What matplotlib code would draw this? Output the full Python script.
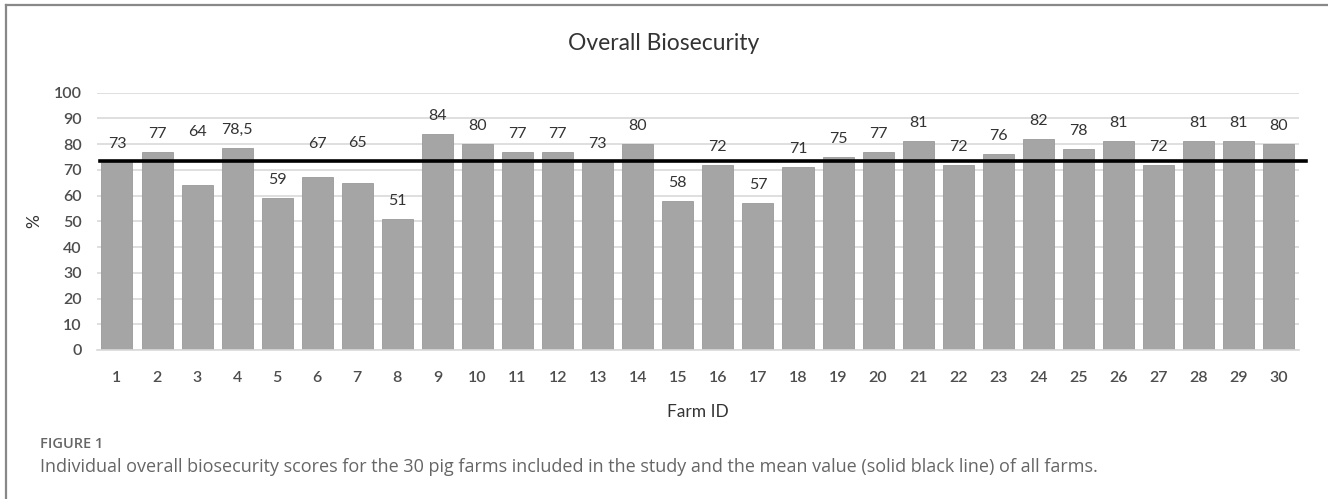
import matplotlib.pyplot as plt
import numpy as np

# Overall biosecurity score per farm (%)
farm_ids = [str(i) for i in range(1, 31)]
scores = [73, 77, 64, 78.5, 59, 67, 65, 51, 84, 80,
          77, 77, 73, 80, 58, 72, 57, 71, 75, 77,
          81, 72, 76, 82, 78, 81, 72, 81, 81, 80]
score_text = ['78,5' if s == 78.5 else f'{s:g}' for s in scores]

mean_score = np.mean(scores)

# label heights: mostly just above the bar, a few pushed up
label_y = [s + 7 for s in scores]
label_y[2] = 84.7
label_y[5] = 80.0
label_y[6] = 80.3

bar_color = '#a5a5a5'
text_gray = '#4d4d4d'

fig = plt.figure(figsize=(13.28, 4.99), dpi=100)
ax = fig.add_axes([0.073, 0.2986, 0.905, 0.516])

x = np.arange(1, len(scores) + 1)
ax.bar(x, scores, width=0.775, color=bar_color, edgecolor='#9a9a9a', linewidth=0.6, zorder=2)

for xi, yi, t in zip(x, label_y, score_text):
    ax.text(xi, yi, t, ha='center', va='center', fontsize=11.5, color='#333333',
            family='Lato', zorder=4)

# mean of all farms
ax.axhline(mean_score, xmin=0.0025, xmax=1.006, color='black', linewidth=2.6,
           clip_on=False, zorder=3)

ax.set_xlim(0.5, 30.5)
ax.set_ylim(0, 100)
ax.set_yticks(range(0, 101, 10))
ax.set_xticks(x)
ax.set_xticklabels(farm_ids)
ax.yaxis.grid(True, color='#d9d9d9', linewidth=1.2, zorder=0)
ax.set_axisbelow(True)
for side in ['top', 'right', 'left']:
    ax.spines[side].set_visible(False)
ax.spines['bottom'].set_color('#d9d9d9')
ax.spines['bottom'].set_linewidth(1.2)
ax.tick_params(length=0, labelsize=11.5, labelcolor=text_gray)
ax.tick_params(axis='x', pad=15)
ax.tick_params(axis='y', pad=11)
for lbl in ax.get_xticklabels() + ax.get_yticklabels():
    lbl.set_family('Lato')
    lbl.set_fontweight('semibold')

ax.set_xlabel('Farm ID', fontsize=12.5, color='#333333', family='Lato', labelpad=14)
ax.set_ylabel('%', fontsize=12.5, color='#333333', family='Lato', rotation=90, labelpad=8)
fig.text(0.5, 0.913, 'Overall Biosecurity', ha='center', va='center', fontsize=16.5,
         color='#333333', family='Lato')

# caption
fig.text(0.030, 0.110, 'FIGURE 1', ha='left', va='center', fontsize=10.5,
         color='#666666', family='Open Sans', fontweight='semibold')
fig.text(0.030, 0.064, 'Individual overall biosecurity scores for the 30 pig farms included in '
         'the study and the mean value (solid black line) of all farms.',
         ha='left', va='center', fontsize=13, color='#666666', family='Open Sans')

# frame lines along the top and left edge
fig.add_artist(plt.Line2D([0.0045, 1.0], [0.990, 0.990], color='#888888', linewidth=1.6))
fig.add_artist(plt.Line2D([0.0045, 0.0045], [0.0, 0.990], color='#888888', linewidth=1.6))

fig.savefig('out.png', dpi=100)
